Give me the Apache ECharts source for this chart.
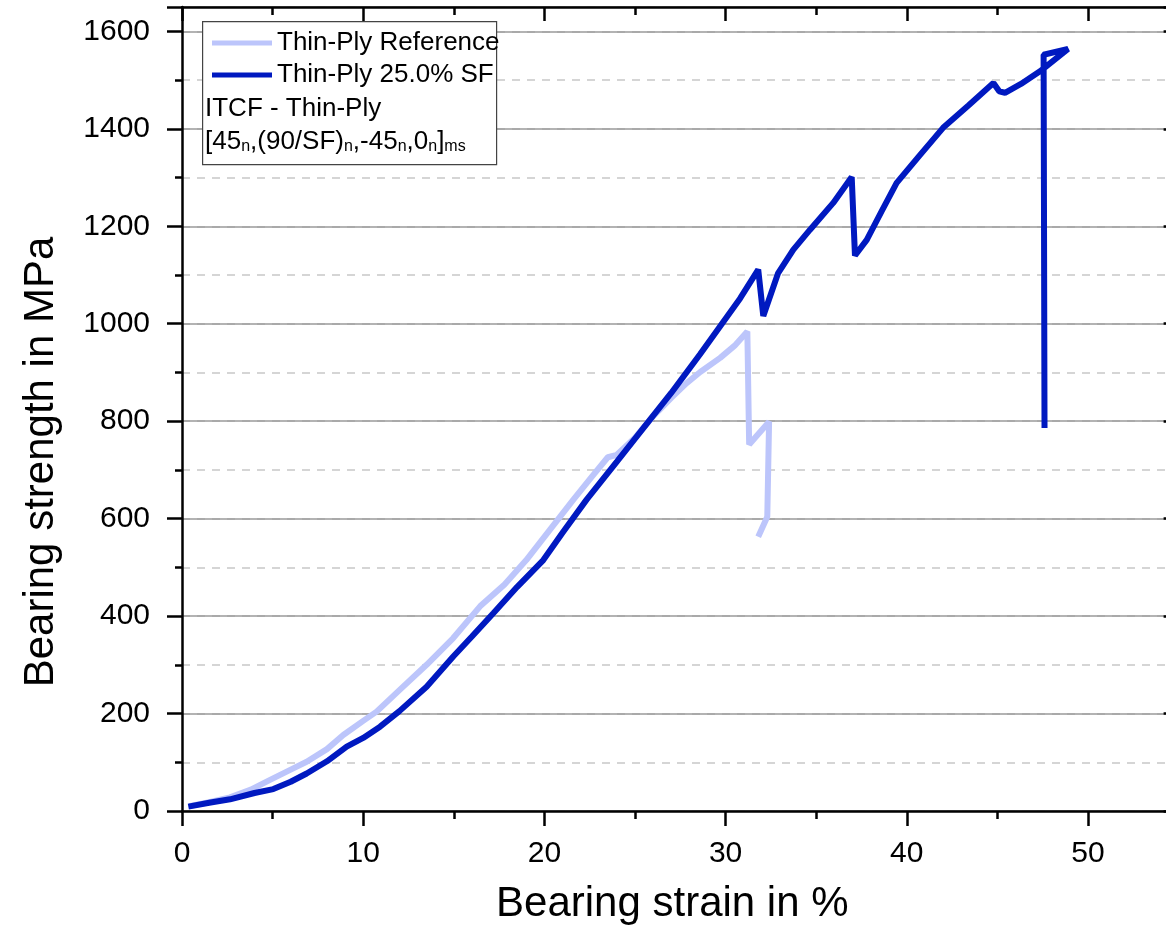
<!DOCTYPE html>
<html>
<head>
<meta charset="utf-8">
<script src="https://cdn.jsdelivr.net/npm/echarts@6/dist/echarts.min.js"></script>
<style>
html,body{margin:0;padding:0;background:#fff;}
#chart{width:1166px;height:927px;}
</style>
</head>
<body>
<div id="chart"></div>
<script>
// ---- data ----
var refName = 'Thin-Ply Reference';
var sfName = 'Thin-Ply 25.0% SF';
var refStrain = [0.4, 1.5, 2.65, 3.8, 4.86, 6.0, 6.88, 8.0, 8.9, 10.0, 10.74, 12.0, 13.5, 14.97, 16.45, 17.8, 19.0, 20.3, 21.6, 22.6, 23.5, 24.0, 25.0, 26.0, 27.0, 27.85, 28.6, 29.7, 30.5, 31.2, 31.3, 32.4, 32.3, 31.8];
var refStrength = [10, 18, 28, 44, 64, 85, 101, 127, 156, 185, 204, 248, 300, 355, 420, 465, 515, 577, 639, 685, 726, 731, 766, 810, 848, 878, 901, 930, 955, 984, 752, 799, 604, 563];
var sfStrain = [0.35, 1.5, 2.65, 4.0, 5.04, 6.0, 6.88, 8.0, 9.09, 10.0, 10.93, 12.0, 13.5, 14.97, 16.0, 17.18, 18.5, 19.94, 21.0, 22.33, 24.0, 25.83, 27.0, 28.6, 29.7, 30.8, 31.8, 32.08, 32.9, 33.74, 34.66, 35.94, 36.96, 37.14, 37.79, 38.6, 39.44, 40.7, 42.0, 43.4, 44.78, 45.1, 45.42, 46.3, 47.35, 48.9, 47.55, 47.6];
var sfStrength = [9, 17, 24, 37, 45, 60, 77, 102, 132, 150, 173, 205, 255, 317, 358, 406, 460, 515, 571, 639, 717, 803, 858, 938, 995, 1052, 1111, 1016, 1104, 1152, 1193, 1248, 1301, 1140, 1172, 1230, 1289, 1345, 1402, 1448, 1494, 1477, 1474, 1492, 1518, 1564, 1552, 786];
var xTitle = 'Bearing strain in %';
var yTitle = 'Bearing strength in MPa';
var noteLine1 = 'ITCF - Thin-Ply';
var noteLine2 = '[45{s|n},(90/SF){s|n},-45{s|n},0{s|n}]{s|ms}';

function zip(a, b) { return a.map(function (v, i) { return [v, b[i]]; }); }

var FONT = 'Liberation Sans, Arial, Helvetica, sans-serif';
var refColor = '#bcc5fb';
var sfColor = '#0019c0';
var X_MAX = 55, Y_MAX = 1650;

var chart = echarts.init(document.getElementById('chart'), null, {renderer: 'canvas'});

var blackLine = {color: '#000', width: 2.5};

var option = {
  backgroundColor: '#fff',
  animation: false,
  textStyle: {fontFamily: FONT},
  grid: {left: 182, top: 7, width: 996.6, height: 804, containLabel: false, outerBoundsMode: 'none'},
  xAxis: [
    {
      type: 'value', position: 'bottom', min: 0, max: X_MAX, interval: 10,
      axisLine: {show: true, onZero: false, lineStyle: blackLine},
      axisTick: {show: true, inside: false, length: 15, lineStyle: blackLine},
      axisLabel: {show: true, fontSize: 30, color: '#000', fontFamily: FONT, margin: 28,
        formatter: function (v) { return v % 10 === 0 ? String(v) : ''; }},
      splitLine: {show: false},
      name: xTitle, nameLocation: 'middle', nameGap: 72,
      nameTextStyle: {fontSize: 42, color: '#000', fontFamily: FONT, padding: [0, 16, 0, 0]}
    },
    {
      type: 'value', position: 'bottom', min: 0, max: X_MAX, interval: 5,
      axisLine: {show: false, onZero: false},
      axisTick: {show: true, inside: false, length: 8, lineStyle: blackLine},
      axisLabel: {show: false}, splitLine: {show: false}
    },
    {
      type: 'value', position: 'top', min: 0, max: X_MAX, interval: 10,
      axisLine: {show: true, onZero: false, lineStyle: blackLine},
      axisTick: {show: true, inside: true, length: 14, lineStyle: blackLine},
      axisLabel: {show: false}, splitLine: {show: false}
    },
    {
      type: 'value', position: 'top', min: 0, max: X_MAX, interval: 5,
      axisLine: {show: false, onZero: false},
      axisTick: {show: true, inside: true, length: 8, lineStyle: blackLine},
      axisLabel: {show: false}, splitLine: {show: false}
    }
  ],
  yAxis: [
    {
      type: 'value', position: 'left', min: 0, max: Y_MAX, interval: 100,
      axisLine: {show: false, onZero: false},
      axisTick: {show: true, inside: false, length: 7, lineStyle: blackLine},
      axisLabel: {show: false},
      splitLine: {show: true, lineStyle: {color: '#c8c8c8', width: 1.5, type: [8, 7]}}
    },
    {
      type: 'value', position: 'left', min: 0, max: Y_MAX, interval: 200,
      axisLine: {show: true, onZero: false, lineStyle: blackLine},
      axisTick: {show: true, inside: false, length: 15, lineStyle: blackLine},
      axisLabel: {show: true, fontSize: 30, color: '#000', fontFamily: FONT, margin: 32,
        formatter: function (v) { return v % 200 === 0 ? String(v) : ''; }},
      splitLine: {show: true, lineStyle: {color: '#9a9a9a', width: 1.5, type: 'solid'}},
      name: yTitle, nameLocation: 'middle', nameGap: 120, nameRotate: 90,
      nameTextStyle: {fontSize: 42, color: '#000', fontFamily: FONT, padding: [0, 106, 0, 0]}
    },
    {
      type: 'value', position: 'right', min: 0, max: Y_MAX, interval: 200,
      axisLine: {show: true, onZero: false, lineStyle: blackLine},
      axisTick: {show: true, inside: true, length: 15, lineStyle: blackLine},
      axisLabel: {show: false}, splitLine: {show: false}
    }
  ],
  legend: {
    show: true, orient: 'vertical', left: 207, top: 25, z: 20,
    itemWidth: 60, itemHeight: 5, itemGap: 6,
    textStyle: {fontSize: 26, color: '#000', fontFamily: FONT},
    data: [{name: refName, icon: 'rect'}, {name: sfName, icon: 'rect'}]
  },
  graphic: [
    {
      type: 'rect', left: 202, top: 21, z: 15,
      shape: {width: 294, height: 143},
      style: {fill: '#fff', stroke: '#444', lineWidth: 1.2}
    },
    {
      type: 'text', left: 205, top: 96, z: 16,
      style: {text: noteLine1, fontSize: 26, fontFamily: FONT, fill: '#000'}
    },
    {
      type: 'text', left: 205, top: 129, z: 16,
      style: {
        text: noteLine2, fontSize: 26, fontFamily: FONT, fill: '#000',
        rich: {s: {fontSize: 16, fontFamily: FONT, fill: '#000', verticalAlign: 'bottom', lineHeight: 10}}
      }
    }
  ],
  series: [
    {
      name: refName, type: 'line', xAxisIndex: 0, yAxisIndex: 1,
      data: zip(refStrain, refStrength),
      symbol: 'none', showSymbol: false, clip: true, z: 3,
      lineStyle: {color: refColor, width: 6},
      itemStyle: {color: refColor}
    },
    {
      name: sfName, type: 'line', xAxisIndex: 0, yAxisIndex: 1,
      data: zip(sfStrain, sfStrength),
      symbol: 'none', showSymbol: false, clip: true, z: 4,
      lineStyle: {color: sfColor, width: 6},
      itemStyle: {color: sfColor}
    }
  ]
};
chart.setOption(option);
</script>
</body>
</html>
